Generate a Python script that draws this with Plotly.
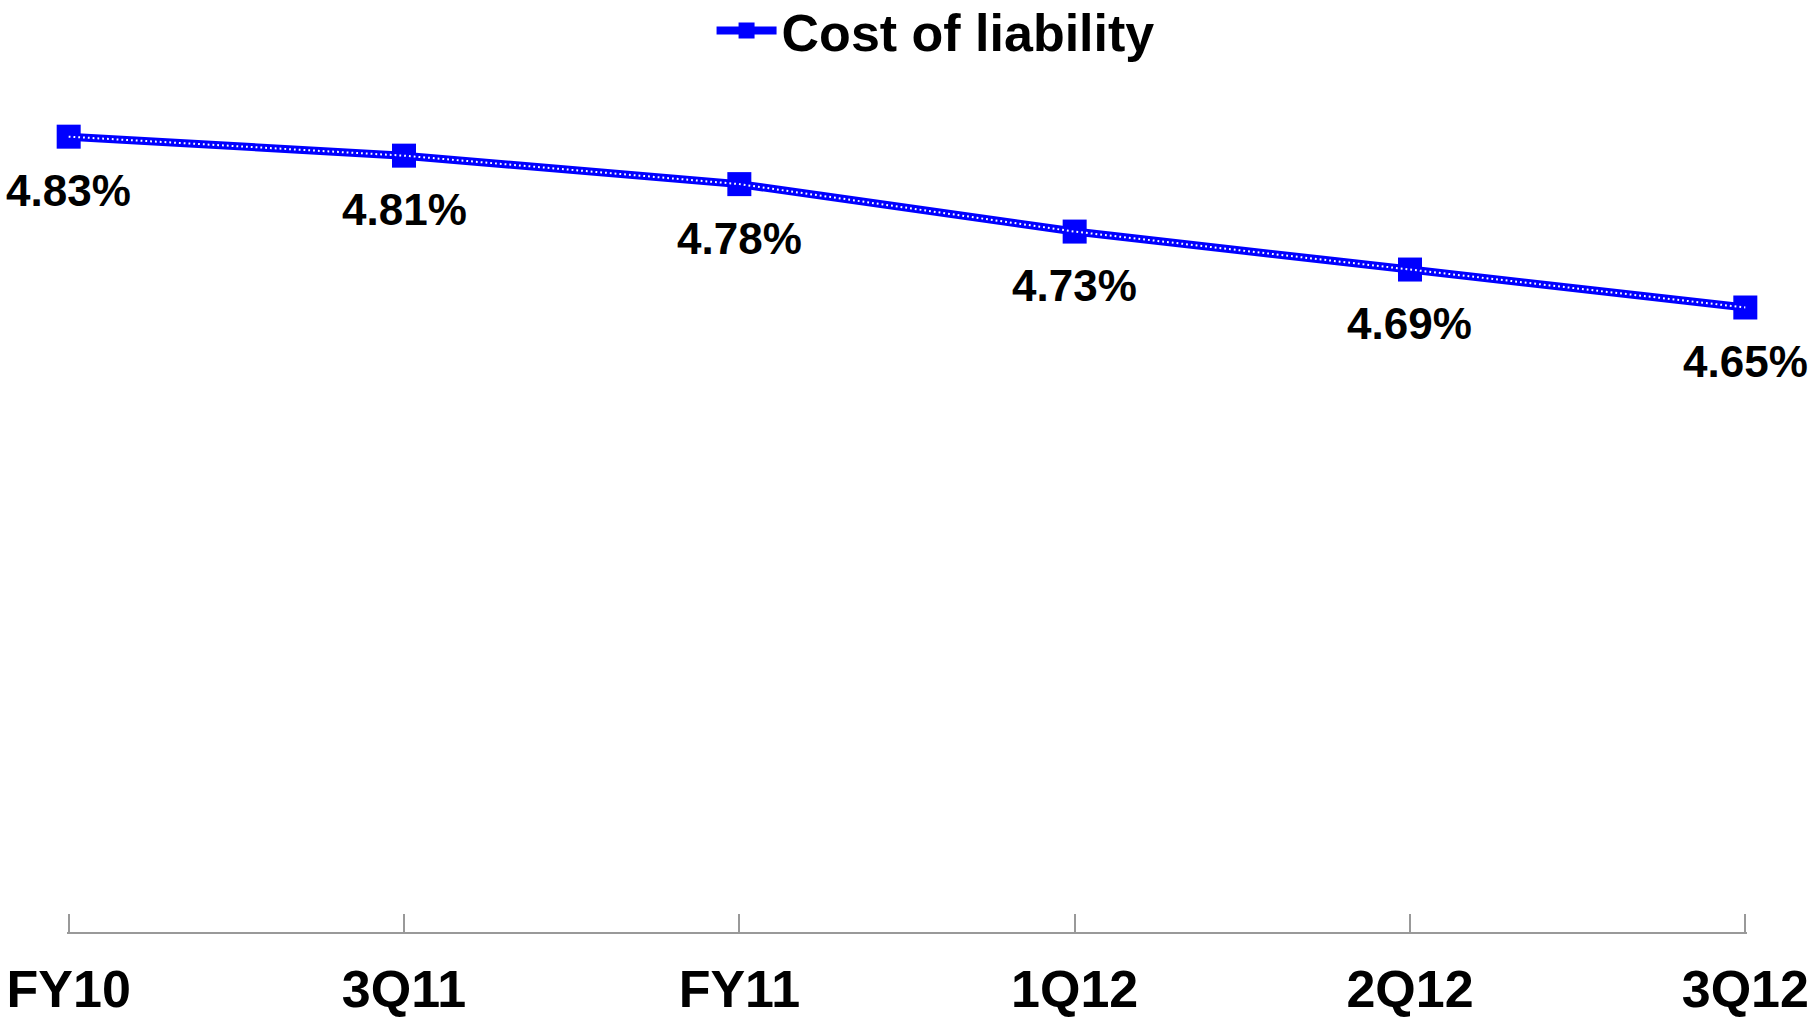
import plotly.graph_objects as go

periods = ["FY10", "3Q11", "FY11", "1Q12", "2Q12", "3Q12"]
cost_of_liability = [4.83, 4.81, 4.78, 4.73, 4.69, 4.65]
value_labels = ["4.83%", "4.81%", "4.78%", "4.73%", "4.69%", "4.65%"]

FONT = "Liberation Sans, Arial, sans-serif"
BLUE = "#0000FF"

fig = go.Figure()

# main series: thick blue line with square markers
fig.add_trace(go.Scatter(
    x=periods,
    y=cost_of_liability,
    mode="lines+markers",
    name="<b>Cost of liability</b>",
    line=dict(color=BLUE, width=8),
    marker=dict(symbol="square", size=24, color=BLUE),
    cliponaxis=False,
))

# white dotted pattern inside the line
fig.add_trace(go.Scatter(
    x=periods,
    y=cost_of_liability,
    mode="lines",
    line=dict(color="white", width=2, dash="1.8px,3px"),
    showlegend=False,
    hoverinfo="skip",
    cliponaxis=False,
))

# value labels below each point
for p, v, lab in zip(periods, cost_of_liability, value_labels):
    fig.add_annotation(
        x=p, y=v, text=lab, showarrow=False,
        yshift=-54,
        font=dict(family=FONT, size=44, color="black", weight="bold"),
    )

fig.update_layout(
    width=1816,
    height=1019,
    paper_bgcolor="white",
    plot_bgcolor="white",
    margin=dict(l=67, r=69, t=0, b=87, autoexpand=False),
    font=dict(family=FONT, color="black"),
    showlegend=True,
    legend=dict(
        orientation="h",
        x=0.517, xanchor="center",
        y=0.967, yanchor="middle",
        itemwidth=60,
        font=dict(family=FONT, size=52, color="black"),
        bgcolor="rgba(0,0,0,0)",
    ),
    xaxis=dict(
        type="category",
        range=[-0.005, 5.005],
        automargin=False,
        showgrid=False,
        showline=True,
        linecolor="#999999",
        linewidth=2,
        ticks="inside",
        ticklen=18,
        tickwidth=2,
        tickcolor="#999999",
        tickfont=dict(family=FONT, size=52, color="black", weight="bold"),
        ticklabelstandoff=11,
    ),
    yaxis=dict(
        range=[3.992, 4.974],
        visible=False,
        automargin=False,
        showgrid=False,
        zeroline=False,
    ),
)

# drop the page's default body margin so the figure sits at the window origin
fig.write_html(
    "out.html",
    config={"displayModeBar": False},
    post_script="document.body.style.margin='0px';document.body.style.overflow='hidden';",
)
